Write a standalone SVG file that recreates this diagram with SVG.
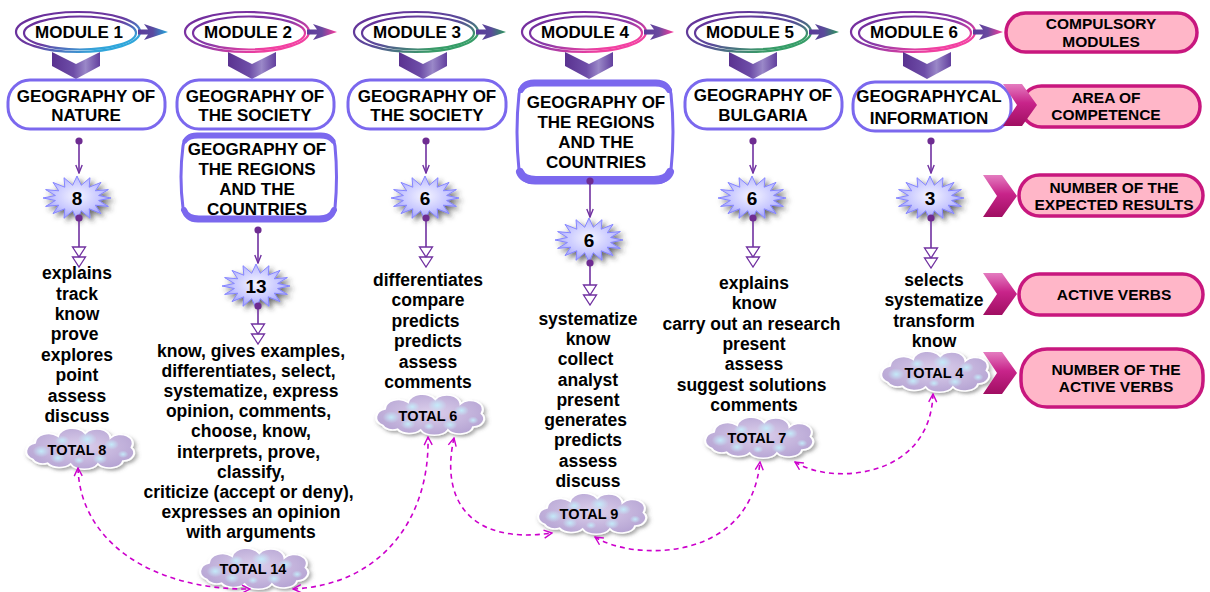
<svg xmlns="http://www.w3.org/2000/svg" width="1210" height="592" viewBox="0 0 1210 592">
  <defs>
    <style>
      .t { font-family: "Liberation Sans", Arial, sans-serif; font-weight: bold; fill: #000; text-anchor: middle; }
      .mod { font-size: 17px; }
      .box { font-size: 17px; }
      .verb { font-size: 17.5px; }
      .tot { font-size: 14.5px; }
      .num { font-size: 19px; }
      .leg { font-size: 15.5px; }
      .node { fill: #fff; stroke: #7b68ee; stroke-width: 3; }
      .edge { fill: none; stroke: #7b68ee; stroke-linecap: round; }
      .pill { fill: #ffb6c8; stroke: #c8177e; stroke-width: 3.5; }
      .flow { fill: none; stroke: #7030a0; stroke-width: 1.6; }
      .link { fill: none; stroke: #cc00cc; stroke-width: 1.6; stroke-dasharray: 5 4; }
      .star { fill: url(#gStar); stroke: #8585ff; stroke-width: 1; }
      .chevD { fill: url(#gChevD); }
      .chevR { fill: url(#gChevR); }
    </style>

    <!-- gradients -->
    <linearGradient id="gRingBlue" x1="0" y1="0" x2="1" y2="1">
      <stop offset="0" stop-color="#6a2a9a"/><stop offset="0.5" stop-color="#6a3aa0"/><stop offset="0.8" stop-color="#35a2d8"/><stop offset="1" stop-color="#1fb4e4"/>
    </linearGradient>
    <linearGradient id="gRingPink" x1="0" y1="0" x2="1" y2="1">
      <stop offset="0" stop-color="#6a2a9a"/><stop offset="0.5" stop-color="#8a3aa8"/><stop offset="0.8" stop-color="#ee3fa0"/><stop offset="1" stop-color="#ff4aa8"/>
    </linearGradient>
    <linearGradient id="gRingGreen" x1="0" y1="0" x2="1" y2="1">
      <stop offset="0" stop-color="#6a2a9a"/><stop offset="0.5" stop-color="#5a4a9a"/><stop offset="0.8" stop-color="#3a9a68"/><stop offset="1" stop-color="#2aa868"/>
    </linearGradient>
    <linearGradient id="gArrBlue" x1="0" y1="0" x2="1" y2="0">
      <stop offset="0" stop-color="#5a3a9a"/><stop offset="0.5" stop-color="#5a4aa0"/><stop offset="1" stop-color="#22aadd"/>
    </linearGradient>
    <linearGradient id="gArrPink" x1="0" y1="0" x2="1" y2="0">
      <stop offset="0" stop-color="#5a3a9a"/><stop offset="0.5" stop-color="#6a4aa0"/><stop offset="1" stop-color="#ff3a9c"/>
    </linearGradient>
    <linearGradient id="gArrGreen" x1="0" y1="0" x2="1" y2="0">
      <stop offset="0" stop-color="#5a3a9a"/><stop offset="0.5" stop-color="#5a4a9a"/><stop offset="1" stop-color="#2a9a5a"/>
    </linearGradient>
    <linearGradient id="gChevD" x1="0" y1="0" x2="1" y2="0">
      <stop offset="0" stop-color="#5a3290"/><stop offset="0.45" stop-color="#6e4ea8"/><stop offset="0.7" stop-color="#9a88c8"/><stop offset="1" stop-color="#62409e"/>
    </linearGradient>
    <linearGradient id="gChevR" x1="0" y1="0" x2="0" y2="1">
      <stop offset="0" stop-color="#e47cc0"/><stop offset="0.45" stop-color="#c8248a"/><stop offset="1" stop-color="#a00e62"/>
    </linearGradient>
    <radialGradient id="gStar" cx="0.5" cy="0.45" r="0.6">
      <stop offset="0" stop-color="#f4f4ff"/><stop offset="0.55" stop-color="#c8c8ff"/><stop offset="1" stop-color="#9090f4"/>
    </radialGradient>
    <radialGradient id="gCloud" cx="0.5" cy="0.45" r="0.6">
      <stop offset="0" stop-color="#dcd0ec"/><stop offset="1" stop-color="#b4a2d2"/>
    </radialGradient>
    <radialGradient id="gSpot" cx="0.5" cy="0.5" r="0.5">
      <stop offset="0" stop-color="#c4ecfa" stop-opacity="0.95"/><stop offset="1" stop-color="#c4ecfa" stop-opacity="0"/>
    </radialGradient>

    <!-- filters -->
    <filter id="fStar" x="-30%" y="-40%" width="160%" height="190%">
      <feDropShadow dx="3" dy="3" stdDeviation="2.5" flood-color="#333" flood-opacity="0.7"/>
    </filter>
    <filter id="fCloud" x="-20%" y="-30%" width="140%" height="170%">
      <feDropShadow dx="2" dy="3" stdDeviation="1.8" flood-color="#555" flood-opacity="0.5"/>
    </filter>

    <!-- markers -->
    <marker id="mDot" viewBox="0 0 8 8" refX="4" refY="4" markerWidth="8" markerHeight="8" markerUnits="userSpaceOnUse">
      <circle cx="4" cy="4" r="3.6" fill="#6e2c91"/>
    </marker>
    <marker id="mArr" viewBox="0 0 10 8" refX="9" refY="4" markerWidth="10" markerHeight="8" markerUnits="userSpaceOnUse" orient="auto">
      <path d="M1,0.8 L9,4 L1,7.2" fill="none" stroke="#7030a0" stroke-width="1.4"/>
    </marker>
    <marker id="mTri" viewBox="0 0 22 16" refX="21" refY="8" markerWidth="22" markerHeight="16" markerUnits="userSpaceOnUse" orient="auto">
      <path d="M1,1.5 L11,8 L1,14.5 Z M11,1.5 L21,8 L11,14.5 Z" fill="#fff" stroke="#7030a0" stroke-width="1.3"/>
    </marker>
    <marker id="mTip" viewBox="0 0 10 10" refX="9" refY="5" markerWidth="10" markerHeight="10" markerUnits="userSpaceOnUse" orient="auto-start-reverse">
      <path d="M1,1 L9,5 L1,9" fill="none" stroke="#cc00cc" stroke-width="1.4"/>
    </marker>

    <!-- module header shapes, centred at x=0 -->
    <g id="hdrBlue">
      <ellipse cx="0" cy="32" rx="62" ry="20" fill="none" stroke="url(#gRingBlue)" stroke-width="2.2"/>
      <ellipse cx="2" cy="33" rx="56" ry="16.5" fill="#fff" stroke="url(#gRingBlue)" stroke-width="2.2"/>
      <path d="M60,29.5 L70,29.5 L66,24 L90,32 L66,40 L70,34.5 L60,34.5 Z" fill="url(#gArrBlue)"/>
    </g>
    <g id="hdrPink">
      <ellipse cx="0" cy="32" rx="62" ry="20" fill="none" stroke="url(#gRingPink)" stroke-width="2.2"/>
      <ellipse cx="2" cy="33" rx="56" ry="16.5" fill="#fff" stroke="url(#gRingPink)" stroke-width="2.2"/>
      <path d="M60,29.5 L70,29.5 L66,24 L90,32 L66,40 L70,34.5 L60,34.5 Z" fill="url(#gArrPink)"/>
    </g>
    <g id="hdrGreen">
      <ellipse cx="0" cy="32" rx="62" ry="20" fill="none" stroke="url(#gRingGreen)" stroke-width="2.2"/>
      <ellipse cx="2" cy="33" rx="56" ry="16.5" fill="#fff" stroke="url(#gRingGreen)" stroke-width="2.2"/>
      <path d="M60,29.5 L70,29.5 L66,24 L90,32 L66,40 L70,34.5 L60,34.5 Z" fill="url(#gArrGreen)"/>
    </g>
    <polygon id="chevDown" class="chevD" points="-24,0 0,12 24,0 24,14 0,27 -24,14"/>
    <polygon id="chevRight" class="chevR" points="0,0 19,0 34,21 19,42 0,42 14,21"/>

    <!-- starburst badge -->
    <polygon id="starShape" class="star" filter="url(#fStar)" points="0,-22 4.3,-12.75 13,-20.3 12.2,-10.8 24,-15.6 18.3,-7.2 31.4,-8.4 21.6,-2.5 34,0 21.6,2.5 31.4,8.4 18.3,7.2 24,15.6 12.2,10.8 13,20.3 4.3,12.75 0,22 -4.3,12.75 -13,20.3 -12.2,10.8 -24,15.6 -18.3,7.2 -31.4,8.4 -21.6,2.5 -34,0 -21.6,-2.5 -31.4,-8.4 -18.3,-7.2 -24,-15.6 -12.2,-10.8 -13,-20.3 -4.3,-12.75"/>

    <!-- cloud badge -->
    <g id="cloudShape">
      <g transform="scale(1.05,0.75)">
        <path d="M-44,14 A12,12 0 0 1 -42,-8 A13,13 0 0 1 -20,-17 A14,13 0 0 1 6,-21 A13,12 0 0 1 30,-15 A12,12 0 0 1 50,-2 A11,11 0 0 1 42,16 A13,11 0 0 1 18,20 A14,11 0 0 1 -8,20 A13,11 0 0 1 -30,19 A10,9 0 0 1 -44,14 Z" fill="url(#gCloud)" stroke="#fff" stroke-width="2" filter="url(#fCloud)"/>
        <circle cx="-36" cy="3" r="8" fill="url(#gSpot)"/>
        <circle cx="-16" cy="-11" r="7" fill="url(#gSpot)"/>
        <circle cx="8" cy="-13" r="9" fill="url(#gSpot)"/>
        <circle cx="31" cy="-6" r="7" fill="url(#gSpot)"/>
        <circle cx="42" cy="7" r="5" fill="url(#gSpot)"/>
        <circle cx="-20" cy="12" r="7" fill="url(#gSpot)"/>
        <circle cx="20" cy="13" r="7" fill="url(#gSpot)"/>
        <circle cx="0" cy="15" r="5" fill="url(#gSpot)"/>
      </g>
    </g>
  </defs>

  <rect width="1210" height="592" fill="#fff"/>

  <!-- module headers -->
  <g id="module-1">
    <use href="#hdrBlue" x="78"/>
    <use href="#chevDown" x="76" y="52"/>
    <text class="t mod" x="79" y="38">MODULE 1</text>
  </g>
  <g id="module-2">
    <use href="#hdrPink" x="247"/>
    <use href="#chevDown" x="252" y="52"/>
    <text class="t mod" x="248" y="38">MODULE 2</text>
  </g>
  <g id="module-3">
    <use href="#hdrGreen" x="416"/>
    <use href="#chevDown" x="423" y="52"/>
    <text class="t mod" x="417" y="38">MODULE 3</text>
  </g>
  <g id="module-4">
    <use href="#hdrPink" x="584"/>
    <use href="#chevDown" x="589" y="52"/>
    <text class="t mod" x="585" y="38">MODULE 4</text>
  </g>
  <g id="module-5">
    <use href="#hdrGreen" x="749"/>
    <use href="#chevDown" x="753" y="52"/>
    <text class="t mod" x="750" y="38">MODULE 5</text>
  </g>
  <g id="module-6">
    <use href="#hdrPink" x="913"/>
    <use href="#chevDown" x="927" y="52"/>
    <text class="t mod" x="914" y="38">MODULE 6</text>
  </g>

  <!-- subject areas -->
  <g id="area-nature">
    <rect class="node" x="8" y="80" width="157" height="49" rx="22"/>
    <text class="t box" x="86" y="102">GEOGRAPHY OF</text>
    <text class="t box" x="86" y="121">NATURE</text>
  </g>
  <g id="area-society-2">
    <rect class="node" x="177" y="80" width="157" height="49" rx="22"/>
    <text class="t box" x="255" y="102">GEOGRAPHY OF</text>
    <text class="t box" x="255" y="121">THE SOCIETY</text>
  </g>
  <g id="area-regions-2">
    <path class="node" stroke-width="3.5" d="M197,134 H321 Q333,134 335,146 Q338,177 335,208 Q333,221 320,221 H198 Q185,221 183,208 Q179,177 183,146 Q185,134 197,134 Z"/>
    <path class="edge" stroke-width="5" d="M185,141 Q188,136 198,136 H320 Q330,136 333,141"/>
    <path class="edge" stroke-width="6" d="M184,210 Q187,218.5 199,218.5 H319 Q331,218.5 334,210"/>
    <text class="t box" x="257" y="155">GEOGRAPHY OF</text>
    <text class="t box" x="257" y="175">THE REGIONS</text>
    <text class="t box" x="257" y="195">AND THE</text>
    <text class="t box" x="257" y="215">COUNTRIES</text>
  </g>
  <g id="area-society-3">
    <rect class="node" x="348" y="80" width="158" height="49" rx="22"/>
    <text class="t box" x="427" y="102">GEOGRAPHY OF</text>
    <text class="t box" x="427" y="121">THE SOCIETY</text>
  </g>
  <g id="area-regions-4">
    <path class="node" stroke-width="3.5" d="M534,81 H656 Q669,81 671,94 Q675,132 671,170 Q669,183 655,183 H535 Q521,183 519,170 Q515,132 519,94 Q521,81 534,81 Z"/>
    <path class="edge" stroke-width="6" d="M521,90 Q524,83.5 535,83.5 H655 Q666,83.5 669,90"/>
    <path class="edge" stroke-width="8" d="M520,172 Q523,180 536,180 H654 Q667,180 670,172"/>
    <text class="t box" x="596" y="108">GEOGRAPHY OF</text>
    <text class="t box" x="596" y="128">THE REGIONS</text>
    <text class="t box" x="596" y="148">AND THE</text>
    <text class="t box" x="596" y="168">COUNTRIES</text>
  </g>
  <g id="area-bulgaria">
    <rect class="node" x="685" y="80" width="157" height="49" rx="22"/>
    <text class="t box" x="763" y="101">GEOGRAPHY OF</text>
    <text class="t box" x="763" y="121">BULGARIA</text>
  </g>
  <g id="area-information">
    <rect class="node" x="853" y="82" width="158" height="49" rx="22"/>
    <text class="t box" x="929" y="102">GEOGRAPHYCAL</text>
    <text class="t box" x="929" y="124">INFORMATION</text>
  </g>

  <!-- expected results -->
  <g id="results-1"><use href="#starShape" x="77" y="198"/><text class="t num" x="77" y="205">8</text></g>
  <g id="results-2"><use href="#starShape" x="256" y="286"/><text class="t num" x="256" y="293">13</text></g>
  <g id="results-3"><use href="#starShape" x="425" y="198"/><text class="t num" x="425" y="205">6</text></g>
  <g id="results-4"><use href="#starShape" x="589" y="240"/><text class="t num" x="589" y="247">6</text></g>
  <g id="results-5"><use href="#starShape" x="752" y="198"/><text class="t num" x="752" y="205">6</text></g>
  <g id="results-6"><use href="#starShape" x="930" y="198"/><text class="t num" x="930" y="205">3</text></g>

  <!-- active verbs -->
  <g id="verbs-1">
    <text class="t verb">
      <tspan x="77" y="279">explains</tspan><tspan x="77" y="300">track</tspan><tspan x="77" y="320">know</tspan><tspan x="77" y="340">prove</tspan>
      <tspan x="77" y="361">explores</tspan><tspan x="77" y="381">point</tspan><tspan x="77" y="402">assess</tspan><tspan x="77" y="422">discuss</tspan>
    </text>
  </g>
  <g id="verbs-2">
    <text class="t verb">
      <tspan x="251" y="357">know, gives examples,</tspan><tspan x="251" y="377">differentiates, select,</tspan>
      <tspan x="251" y="397">systematize, express</tspan><tspan x="251" y="417">opinion, comments,</tspan>
      <tspan x="251" y="437">choose, know,</tspan><tspan x="251" y="458">interprets, prove,</tspan>
      <tspan x="251" y="478">classify,</tspan><tspan x="251" y="498">criticize (accept or deny),</tspan>
      <tspan x="251" y="518">expresses an opinion</tspan><tspan x="251" y="538">with arguments</tspan>
    </text>
  </g>
  <g id="verbs-3">
    <text class="t verb">
      <tspan x="428" y="286">differentiates</tspan><tspan x="428" y="306">compare</tspan><tspan x="428" y="327">predicts</tspan>
      <tspan x="428" y="347">predicts</tspan><tspan x="428" y="368">assess</tspan><tspan x="428" y="388">comments</tspan>
    </text>
  </g>
  <g id="verbs-4">
    <text class="t verb">
      <tspan x="588" y="325">systematize</tspan><tspan x="588" y="345">know</tspan><tspan x="588" y="365">collect</tspan>
      <tspan x="588" y="386">analyst</tspan><tspan x="588" y="406">present</tspan><tspan x="588" y="426">generates</tspan>
      <tspan x="588" y="446">predicts</tspan><tspan x="588" y="467">assess</tspan><tspan x="588" y="487">discuss</tspan>
    </text>
  </g>
  <g id="verbs-5">
    <text class="t verb">
      <tspan x="754" y="289">explains</tspan><tspan x="754" y="309">know</tspan><tspan x="754" y="330">carry out an research</tspan>
      <tspan x="754" y="350">present</tspan><tspan x="754" y="370">assess</tspan><tspan x="754" y="391">suggest solutions</tspan>
      <tspan x="754" y="411">comments</tspan>
    </text>
  </g>
  <g id="verbs-6">
    <text class="t verb">
      <tspan x="934" y="286">selects</tspan><tspan x="934" y="306">systematize</tspan><tspan x="934" y="327">transform</tspan><tspan x="934" y="347">know</tspan>
    </text>
  </g>

  <!-- verb totals -->
  <g id="total-1"><use href="#cloudShape" x="79" y="449"/><text class="t tot" x="77" y="455">TOTAL 8</text></g>
  <g id="total-2"><use href="#cloudShape" x="253" y="569"/><text class="t tot" x="253" y="574">TOTAL 14</text></g>
  <g id="total-3"><use href="#cloudShape" x="429" y="415"/><text class="t tot" x="428" y="421">TOTAL 6</text></g>
  <g id="total-4"><use href="#cloudShape" x="591" y="514"/><text class="t tot" x="589" y="519">TOTAL 9</text></g>
  <g id="total-5"><use href="#cloudShape" x="758" y="438"/><text class="t tot" x="757" y="443">TOTAL 7</text></g>
  <g id="total-6"><use href="#cloudShape" x="934" y="372"/><text class="t tot" x="934" y="378">TOTAL 4</text></g>

  <!-- legend -->
  <g id="legend-modules">
    <rect class="pill" x="1006" y="13" width="191" height="39" rx="19.5"/>
    <text class="t leg" x="1101" y="29">COMPULSORY</text>
    <text class="t leg" x="1101" y="47">MODULES</text>
  </g>
  <g id="legend-area">
    <rect class="pill" x="1021" y="86" width="179" height="41" rx="20.5"/>
    <use href="#chevRight" x="1003" y="84"/>
    <text class="t leg" x="1106" y="103">AREA OF</text>
    <text class="t leg" x="1106" y="120">COMPETENCE</text>
  </g>
  <g id="legend-results">
    <use href="#chevRight" x="983" y="175"/>
    <rect class="pill" x="1019" y="175" width="184" height="41" rx="20.5"/>
    <text class="t leg" x="1114" y="193">NUMBER OF THE</text>
    <text class="t leg" x="1114" y="210">EXPECTED RESULTS</text>
  </g>
  <g id="legend-verbs">
    <use href="#chevRight" x="983" y="273"/>
    <rect class="pill" x="1019" y="274" width="184" height="41" rx="20.5"/>
    <text class="t leg" x="1114" y="300">ACTIVE VERBS</text>
  </g>
  <g id="legend-total">
    <use href="#chevRight" x="983" y="352"/>
    <rect class="pill" x="1021" y="349" width="182" height="58" rx="26" stroke-width="4"/>
    <text class="t leg" x="1116" y="375">NUMBER OF THE</text>
    <text class="t leg" x="1116" y="392">ACTIVE VERBS</text>
  </g>

  <!-- connectors -->
  <g id="connectors">
    <path class="flow" d="M79,141 V173" marker-start="url(#mDot)" marker-end="url(#mArr)"/>
    <path class="flow" d="M79,218 V267" marker-start="url(#mDot)" marker-end="url(#mTri)"/>
    <path class="flow" d="M258,230 V263" marker-start="url(#mDot)" marker-end="url(#mArr)"/>
    <path class="flow" d="M258,306 V344" marker-start="url(#mDot)" marker-end="url(#mTri)"/>
    <path class="flow" d="M426,141 V173" marker-start="url(#mDot)" marker-end="url(#mArr)"/>
    <path class="flow" d="M426,218 V267" marker-start="url(#mDot)" marker-end="url(#mTri)"/>
    <path class="flow" d="M590,181 V217" marker-start="url(#mDot)" marker-end="url(#mArr)"/>
    <path class="flow" d="M590,263 V305" marker-start="url(#mDot)" marker-end="url(#mTri)"/>
    <path class="flow" d="M753,141 V173" marker-start="url(#mDot)" marker-end="url(#mArr)"/>
    <path class="flow" d="M753,218 V267" marker-start="url(#mDot)" marker-end="url(#mTri)"/>
    <path class="flow" d="M931,141 V173" marker-start="url(#mDot)" marker-end="url(#mArr)"/>
    <path class="flow" d="M931,218 V268" marker-start="url(#mDot)" marker-end="url(#mTri)"/>

    <path class="link" d="M78,468 C80,540 150,590 250,589" marker-start="url(#mTip)" marker-end="url(#mTip)"/>
    <path class="link" d="M293,589 C380,585 430,520 428,437" marker-start="url(#mTip)" marker-end="url(#mTip)"/>
    <path class="link" d="M454,438 C440,500 470,545 552,533" marker-start="url(#mTip)" marker-end="url(#mTip)"/>
    <path class="link" d="M595,537 C630,560 750,565 760,462" marker-start="url(#mTip)" marker-end="url(#mTip)"/>
    <path class="link" d="M795,462 C830,485 930,480 933,394" marker-start="url(#mTip)" marker-end="url(#mTip)"/>
  </g>
</svg>
